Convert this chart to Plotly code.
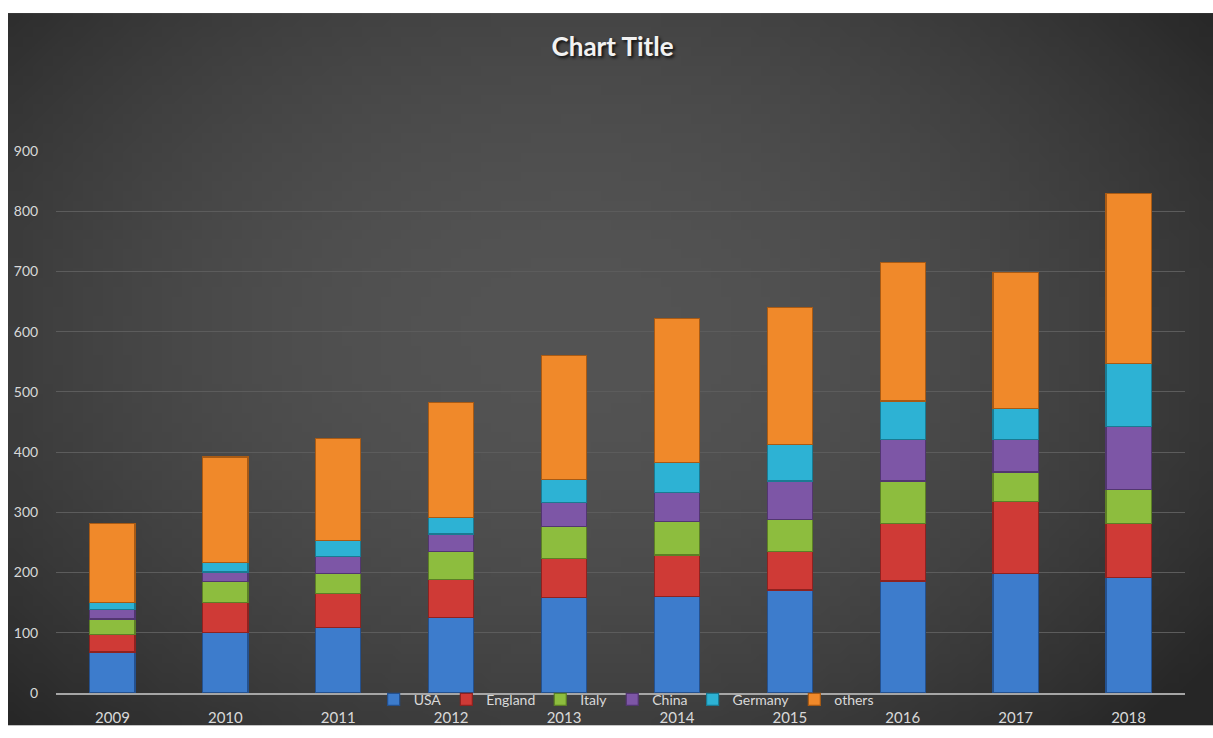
import base64, struct, zlib
import plotly.graph_objects as go

years = ["2009", "2010", "2011", "2012", "2013", "2014", "2015", "2016", "2017", "2018"]
usa = [68, 101, 109, 125, 158, 160, 171, 186, 199, 192]
england = [29, 49, 56, 64, 66, 69, 64, 96, 119, 89]
italy = [26, 35, 34, 46, 52, 56, 53, 70, 49, 57]
china = [15, 16, 28, 29, 41, 48, 64, 69, 54, 105]
germany = [12, 16, 26, 28, 38, 50, 60, 64, 51, 104]
others = [131, 175, 170, 191, 206, 239, 228, 230, 226, 282]

series = [
    ("USA", usa, "#3d7ccc", "#24518f"),
    ("England", england, "#cf3a36", "#8e2220"),
    ("Italy", italy, "#8dbd3e", "#5c7f26"),
    ("China", china, "#7d56a6", "#523670"),
    ("Germany", germany, "#2db2d4", "#1a7a92"),
    ("others", others, "#f0892a", "#a85a14"),
]

# radial-gradient background image (style only)
def gradient_png(w, h):
    rows = b""
    for j in range(h):
        row = bytearray([0])
        for i in range(w):
            dx = (i / (w - 1) - 0.47) / 0.62
            dy = (j / (h - 1) - 0.45) / 0.75
            d2 = dx * dx + dy * dy
            v = int(max(38, min(84, 84 - 40 * d2)))
            row += bytes([v, v, v])
        rows += bytes(row)
    def chunk(t, data):
        c = struct.pack(">I", len(data)) + t + data
        return c + struct.pack(">I", zlib.crc32(t + data) & 0xffffffff)
    png = b"\x89PNG\r\n\x1a\n"
    png += chunk(b"IHDR", struct.pack(">IIBBBBB", w, h, 8, 2, 0, 0, 0))
    png += chunk(b"IDAT", zlib.compress(rows, 9))
    png += chunk(b"IEND", b"")
    return "data:image/png;base64," + base64.b64encode(png).decode()

W, H = 1213, 738
L, R, T, B = 56, 28, 151, 33
pw, ph = W - L - R, H - T - B

fig = go.Figure()
for name, vals, col, edge in series:
    fig.add_trace(go.Bar(
        name=name, x=years, y=vals,
        marker=dict(color=col, line=dict(color=edge, width=1.2)),
    ))

fig.update_layout(
    width=W, height=H,
    barmode="stack", bargap=0.6,
    paper_bgcolor="white", plot_bgcolor="rgba(0,0,0,0)",
    margin=dict(l=L, r=R, t=T, b=B),
    font=dict(family="Lato, Open Sans, sans-serif", color="#d9d9d9", size=14),
    title=dict(text="<b>Chart Title</b>", x=0.505, xanchor="center", y=1 - 47 / H, yanchor="middle",
               font=dict(size=26, color="#f2f2f2", family="Lato, Open Sans, sans-serif",
                         shadow="2px 2px 3px #111")),
    showlegend=True,
    legend=dict(orientation="h", x=0.505, xanchor="center", y=-7 / ph, yanchor="middle",
                bgcolor="rgba(0,0,0,0)", font=dict(size=14, color="#d9d9d9"),
                itemwidth=30, traceorder="normal", tracegroupgap=0),
    images=[dict(source=gradient_png(121, 74), xref="paper", yref="paper",
                 x=(8 - L) / pw, y=(H - B - 10) / ph, sizex=(W - 8) / pw, sizey=(H - 10) / ph,
                 xanchor="left", yanchor="top", sizing="stretch", layer="below")],
)
fig.update_xaxes(showgrid=False, showline=True, linecolor="#a6a6a6", linewidth=2,
                 ticks="outside", ticklen=10, tickcolor="rgba(0,0,0,0)",
                 tickfont=dict(size=15, color="#d9d9d9"))
fig.update_yaxes(range=[0, 900], dtick=100, showgrid=True, gridcolor="#5c5c5c", gridwidth=1,
                 zeroline=False, showline=False,
                 ticks="outside", ticklen=14, tickcolor="rgba(0,0,0,0)",
                 tickfont=dict(size=14, color="#d9d9d9"))

fig.write_html("out.html", config={"displayModeBar": False},
               post_script="document.body.style.margin='0';")
